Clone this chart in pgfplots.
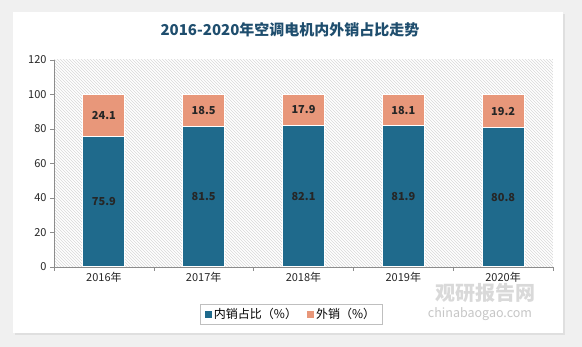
\documentclass[border=0pt]{standalone}
\usepackage{pgfplots}
\pgfplotsset{compat=1.18}
\usetikzlibrary{patterns}
\usepackage{fontspec}
\setmainfont{Noto Sans CJK SC}
\definecolor{blueC}{HTML}{1F6A8C}
\definecolor{orangeC}{HTML}{E8977A}
\definecolor{titleC}{HTML}{1F4E6E}
\definecolor{axisC}{HTML}{8C8C8C}
\begin{document}
\begin{tikzpicture}[x=1pt,y=1pt]
\fill[gray!12] (0,0) rectangle (582,347);
\fill[gray!25] (15,12) rectangle (565,333);
\fill[white] (13,14) rectangle (563,335);
\path[use as bounding box] (0,0) rectangle (582,347);
\node[font=\fontsize{15}{18}\selectfont\bfseries, text=titleC] at (290,317) {2016-2020年空调电机内外销占比走势};
\node[font=\fontsize{20}{22}\selectfont\bfseries, text=gray!30] at (485,54) {观研报告网};
\node[font=\fontsize{12.5}{14}\selectfont, text=gray!45] at (480,33) {chinabaogao.com};
\begin{axis}[
  at={(54pt,80pt)}, anchor=south west, scale only axis,
  width=499pt, height=207pt,
  ymin=0, ymax=120, ytick={0,20,...,120},
  xmin=-0.5, xmax=4.5,
  xtick={-0.5,0.5,...,4.5}, xticklabels={},
  extra x ticks={0,1,2,3,4},
  extra x tick labels={2016年,2017年,2018年,2019年,2020年},
  extra x tick style={major tick length=0pt},
  axis x line*=bottom, axis y line*=left,
  axis line style={axisC}, tick style={axisC},
  tick align=outside, major tick length=4pt,
  tick label style={font=\fontsize{11}{13}\selectfont, text=black!85},
  /pgf/number format/assume math mode=true,
  x tick label style={yshift=-2pt},
  axis background/.style={pattern=north west lines, pattern color=gray!30},
  ybar stacked, bar width=42pt,
  legend style={at={(0.475,-0.229)}, anchor=center, draw=gray!50, legend columns=2,
    font=\fontsize{12}{14}\selectfont, inner xsep=5pt, inner ysep=2pt,
    /tikz/every even column/.append style={column sep=8pt}},
  legend image code/.code={\draw[#1, draw=none] (0pt,-3.5pt) rectangle (7pt,3.5pt);},
]
\addplot[fill=blueC, draw=white, line width=1pt] coordinates {(0,75.9) (1,81.5) (2,82.1) (3,81.9) (4,80.8)};
\addplot[fill=orangeC, draw=white, line width=1pt] coordinates {(0,24.1) (1,18.5) (2,17.9) (3,18.1) (4,19.2)};
\legend{内销占比（\%）,外销（\%）}
\end{axis}
\begin{axis}[
  at={(54pt,80pt)}, anchor=south west, scale only axis,
  width=499pt, height=207pt,
  ymin=0, ymax=120, xmin=-0.5, xmax=4.5, hide axis,
  nodes near coords, point meta=explicit symbolic,
  nodes near coords align={center},
  every node near coord/.append style={font=\fontsize{11}{13}\selectfont\bfseries, text=black!85},
]
\addplot[draw=none, mark=none] coordinates {(0,37.95)[75.9] (1,40.75)[81.5] (2,41.05)[82.1] (3,40.95)[81.9] (4,40.4)[80.8]};
\addplot[draw=none, mark=none] coordinates {(0,87.95)[24.1] (1,90.75)[18.5] (2,91.05)[17.9] (3,90.95)[18.1] (4,90.4)[19.2]};
\end{axis}
\end{tikzpicture}
\end{document}
